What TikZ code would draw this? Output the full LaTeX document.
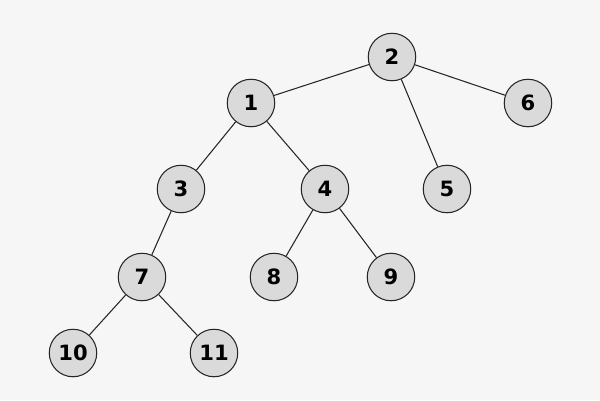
\documentclass[tikz,border=0pt]{standalone}
\usepackage{fontspec}
\setmainfont{DejaVu Sans}
\definecolor{bggray}{RGB}{246,246,246}
\definecolor{nodegray}{RGB}{218,218,218}
\tikzset{
  tree-node/.style={circle, draw=black!85, line width=0.6pt, fill=nodegray,
    minimum size=0.95cm, inner sep=0pt, font=\bfseries\fontsize{12}{14}\selectfont},
  tree-edge/.style={draw=black!85, line width=0.6pt}
}

\begin{document}
\begin{tikzpicture}[x=0.02cm, y=-0.02cm]
  \fill[bggray] (0,0) rectangle (600,400);
  \useasboundingbox (0,0) rectangle (600,400);
  % Nodes
  \node[tree-node] (n2) at (392,57) {2};
  \node[tree-node] (n1) at (251,103) {1};
  \node[tree-node] (n6) at (528,103) {6};
  \node[tree-node] (n3) at (181,189) {3};
  \node[tree-node] (n4) at (325,189) {4};
  \node[tree-node] (n5) at (447,189) {5};
  \node[tree-node] (n7) at (142,277) {7};
  \node[tree-node] (n8) at (274,277) {8};
  \node[tree-node] (n9) at (391,277) {9};
  \node[tree-node] (n10) at (73,353) {10};
  \node[tree-node] (n11) at (214,353) {11};
  % Edges
  \draw[tree-edge] (n2) -- (n1);
  \draw[tree-edge] (n2) -- (n6);
  \draw[tree-edge] (n2) -- (n5);
  \draw[tree-edge] (n1) -- (n3);
  \draw[tree-edge] (n1) -- (n4);
  \draw[tree-edge] (n4) -- (n8);
  \draw[tree-edge] (n4) -- (n9);
  \draw[tree-edge] (n3) -- (n7);
  \draw[tree-edge] (n7) -- (n10);
  \draw[tree-edge] (n7) -- (n11);
\end{tikzpicture}
\end{document}
